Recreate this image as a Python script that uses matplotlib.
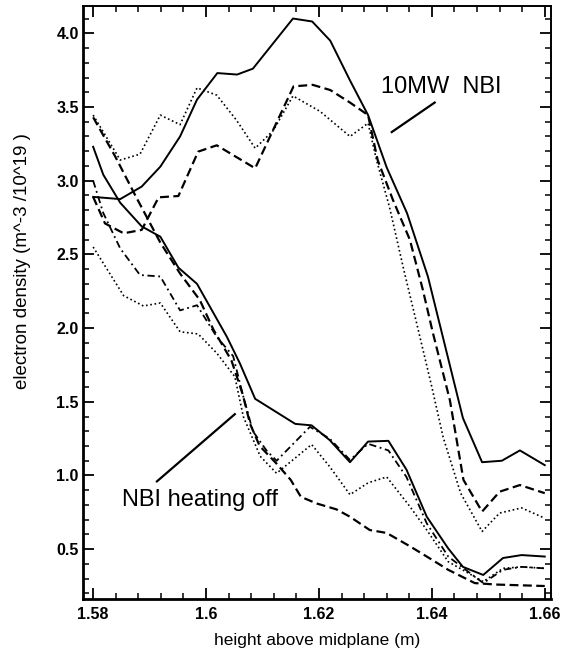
import numpy as np
import matplotlib
matplotlib.use("Agg")
import matplotlib.pyplot as plt
from matplotlib.ticker import MultipleLocator, FixedLocator, FixedFormatter

# ---- data ----
# 10MW NBI profiles
nbi_solid_x = [1.58, 1.5848, 1.5886, 1.5919, 1.5954, 1.5984, 1.6020, 1.6055, 1.6083,
               1.6154, 1.6188, 1.6220, 1.6255, 1.6287, 1.6320, 1.6356, 1.6393,
               1.6455, 1.6489, 1.6524, 1.6556, 1.66]
nbi_solid_y = [2.89, 2.875, 2.96, 3.095, 3.30, 3.55, 3.73, 3.72, 3.76,
               4.10, 4.08, 3.95, 3.68, 3.445, 3.09, 2.78, 2.35,
               1.39, 1.09, 1.10, 1.17, 1.07]

nbi_dash_x = [1.58, 1.5821, 1.5854, 1.5886, 1.5916, 1.5951, 1.5986, 1.6019, 1.6087,
              1.6155, 1.6189, 1.6220, 1.6255, 1.6287, 1.6304, 1.6331, 1.6361,
              1.6384, 1.6402, 1.6432, 1.6456, 1.6489, 1.6520, 1.6556, 1.66]
nbi_dash_y = [2.89, 2.71, 2.643, 2.666, 2.887, 2.896, 3.197, 3.24, 3.084,
              3.64, 3.65, 3.615, 3.53, 3.445, 3.14, 2.87, 2.60,
              2.26, 1.965, 1.51, 0.97, 0.755, 0.89, 0.935, 0.88]

nbi_dot_x = [1.58, 1.5848, 1.5883, 1.5919, 1.5954, 1.5984, 1.6019, 1.6054, 1.6087,
             1.6119, 1.6154, 1.6202, 1.6255, 1.6287, 1.6302, 1.6325, 1.6350,
             1.6372, 1.6400, 1.6420, 1.6451, 1.6489, 1.6520, 1.6559, 1.66]
nbi_dot_y = [3.445, 3.14, 3.18, 3.445, 3.38, 3.63, 3.58, 3.41, 3.22,
             3.34, 3.575, 3.47, 3.30, 3.39, 3.14, 2.82, 2.40,
             2.05, 1.60, 1.26, 0.88, 0.62, 0.745, 0.78, 0.71]

# NBI heating off profiles
off_solid_x = [1.58, 1.5818, 1.5848, 1.5886, 1.5919, 1.5951, 1.5984, 1.6037, 1.6060,
               1.6087, 1.6158, 1.6187, 1.6219, 1.6255, 1.6287, 1.6323, 1.6355,
               1.6391, 1.6429, 1.6455, 1.6491, 1.6526, 1.6559, 1.66]
off_solid_y = [3.23, 3.04, 2.85, 2.69, 2.62, 2.41, 2.30, 1.94, 1.76,
               1.52, 1.35, 1.34, 1.24, 1.09, 1.23, 1.235, 1.04,
               0.72, 0.505, 0.38, 0.325, 0.44, 0.46, 0.45]

off_dash_x = [1.58, 1.5839, 1.5876, 1.5919, 1.5954, 1.5989, 1.6013, 1.6045, 1.6065,
              1.6078, 1.6095, 1.6125, 1.6150, 1.6168, 1.6196, 1.6231, 1.6255,
              1.6290, 1.6320, 1.6361, 1.6391, 1.6429, 1.6476, 1.6514, 1.66]
off_dash_y = [3.43, 3.165, 2.89, 2.58, 2.37, 2.19, 1.99, 1.78, 1.55,
              1.35, 1.20, 1.08, 0.97, 0.855, 0.81, 0.77, 0.72,
              0.63, 0.61, 0.52, 0.45, 0.36, 0.27, 0.26, 0.25]

off_dashdot_x = [1.58, 1.5818, 1.5848, 1.5883, 1.5919, 1.5954, 1.5984, 1.6019, 1.6048,
                 1.6065, 1.6083, 1.6107, 1.6125, 1.6184, 1.6219, 1.6255, 1.6287,
                 1.6323, 1.6355, 1.6391, 1.6429, 1.6491, 1.6526, 1.6559, 1.66]
off_dashdot_y = [3.0, 2.78, 2.54, 2.36, 2.35, 2.12, 2.155, 1.94, 1.81,
                 1.55, 1.30, 1.17, 1.10, 1.33, 1.25, 1.105, 1.215,
                 1.17, 0.99, 0.675, 0.45, 0.27, 0.36, 0.38, 0.37]

off_dot_x = [1.58, 1.5854, 1.5889, 1.5919, 1.5954, 1.5986, 1.6019, 1.6051, 1.6066,
             1.6096, 1.6125, 1.6187, 1.6219, 1.6255, 1.6287, 1.6320, 1.6361,
             1.6391, 1.6429, 1.6491, 1.6526, 1.6559, 1.66]
off_dot_y = [2.55, 2.22, 2.15, 2.17, 1.975, 1.96, 1.83, 1.67, 1.40,
             1.13, 1.015, 1.21, 1.06, 0.87, 0.95, 0.99, 0.79,
             0.63, 0.415, 0.28, 0.37, 0.38, 0.37]

xticks = [1.58, 1.60, 1.62, 1.64, 1.66]
xticklabels = ["1.58", "1.6", "1.62", "1.64", "1.66"]
yticks = [0.5, 1.0, 1.5, 2.0, 2.5, 3.0, 3.5, 4.0]
yticklabels = ["0.5", "1.0", "1.5", "2.0", "2.5", "3.0", "3.5", "4.0"]

plt.rcParams["font.family"] = ["Liberation Sans", "DejaVu Sans"]

fig = plt.figure(figsize=(5.68, 6.68), dpi=100)
ax = fig.add_axes([0.1461, 0.1033, 0.8239, 0.8877])

DASH = (0, (4, 2))
DOT = (0, (1, 1.6))
DASHDOT = (0, (4, 2, 1, 2))

ax.plot(nbi_solid_x, nbi_solid_y, color="black", lw=1.4, ls="-")
ax.plot(nbi_dash_x, nbi_dash_y, color="black", lw=1.6, ls=DASH)
ax.plot(nbi_dot_x, nbi_dot_y, color="black", lw=1.2, ls=DOT)

ax.plot(off_solid_x, off_solid_y, color="black", lw=1.4, ls="-")
ax.plot(off_dash_x, off_dash_y, color="black", lw=1.6, ls=DASH)
ax.plot(off_dashdot_x, off_dashdot_y, color="black", lw=1.3, ls=DASHDOT)
ax.plot(off_dot_x, off_dot_y, color="black", lw=1.2, ls=DOT)

# annotations
ax.text(1.6310, 3.636, "10MW  NBI", fontsize=17, va="center", ha="left")
ax.plot([1.6405, 1.6329], [3.53, 3.33], color="black", lw=1.6)
ax.text(1.5851, 0.834, "NBI heating off", fontsize=17, va="center", ha="left")
ax.plot([1.5913, 1.6051], [0.96, 1.416], color="black", lw=1.6)

ax.set_xlim(1.5782, 1.6611)
ax.set_ylim(0.162, 4.185)

ax.xaxis.set_major_locator(FixedLocator(xticks))
ax.xaxis.set_major_formatter(FixedFormatter(xticklabels))
ax.xaxis.set_minor_locator(MultipleLocator(0.004))
ax.yaxis.set_major_locator(FixedLocator(yticks))
ax.yaxis.set_major_formatter(FixedFormatter(yticklabels))
ax.yaxis.set_minor_locator(MultipleLocator(0.1))

ax.tick_params(which="both", direction="in", top=True, right=True, color="black")
ax.tick_params(which="major", length=8, width=1.3, pad=6)
ax.tick_params(which="minor", length=4, width=1.1)
for lab in ax.get_xticklabels() + ax.get_yticklabels():
    lab.set_fontweight("bold")
    lab.set_fontsize(11.5)
ax.tick_params(axis="y", pad=3)

for side in ["left", "bottom"]:
    ax.spines[side].set_linewidth(2.0)
for side in ["top", "right"]:
    ax.spines[side].set_linewidth(1.4)

ax.set_xlabel("height above midplane (m)", fontsize=12.5, labelpad=8)
ax.set_ylabel("electron density (m^-3 /10^19 )", fontsize=13.5)
ax.yaxis.set_label_coords(-0.112, 0.57)

plt.savefig("out.png", dpi=100)
